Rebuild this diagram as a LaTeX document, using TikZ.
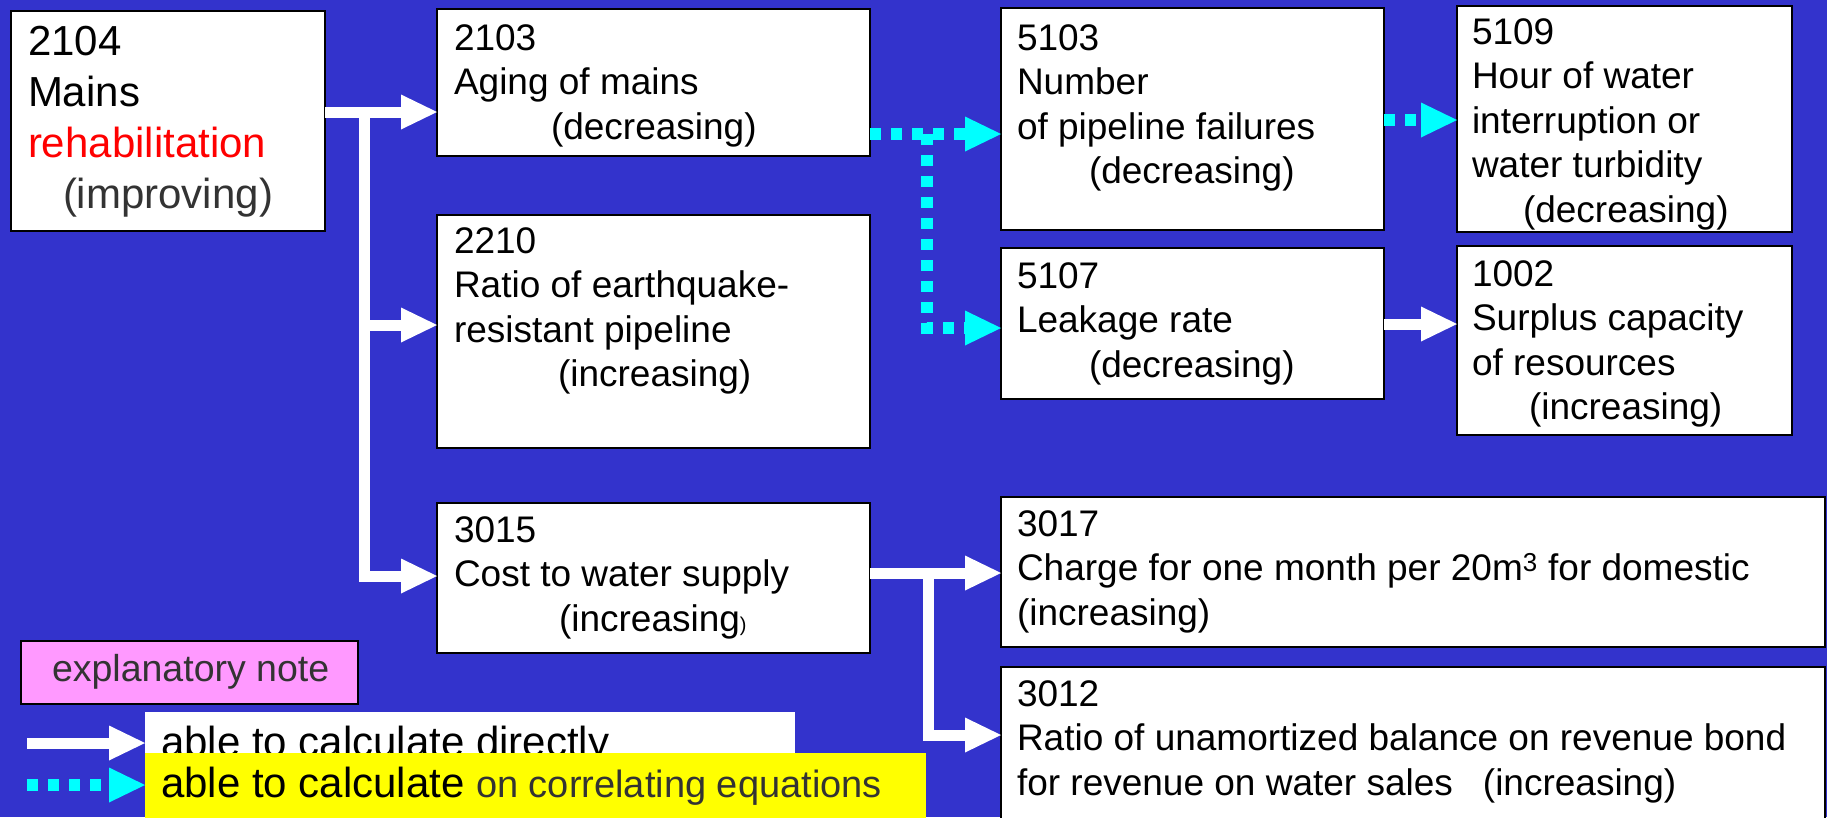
\documentclass[tikz,border=0pt]{standalone}
\usepackage{fontspec}
\setmainfont{Liberation Sans}
\usetikzlibrary{arrows.meta}
\definecolor{bgblue}{RGB}{51,51,204}
\definecolor{tcyan}{RGB}{0,255,255}
\definecolor{notepink}{RGB}{255,153,255}
\definecolor{txtgray}{RGB}{51,51,51}
\definecolor{lgyellow}{RGB}{255,255,0}
\newcommand\fst{\rule{0pt}{36pt}}
\begin{document}
\begin{tikzpicture}[x=1pt,y=-1pt,
  box/.style={draw=black,line width=2pt,fill=white,inner sep=0pt,outer sep=0pt,anchor=north west},
  txt/.style={anchor=north west,inner sep=0pt,outer sep=0pt,align=left,yshift=36pt,font=\fontsize{37}{44.5}\selectfont},
  bigtxt/.style={txt,font=\fontsize{42}{51}\selectfont},
  warrow/.style={draw=white,line width=11pt,-{Triangle[length=36pt,width=35pt,line width=0pt]}},
  carrow/.style={draw=tcyan,line width=12pt,dash pattern=on 11pt off 10pt,-{Triangle[length=36pt,width=35pt,line width=0pt]}},
]
\useasboundingbox (0,0) rectangle (1827,817);
\fill[bgblue] (0,0) rectangle (1827,817);

% boxes
\node[box,minimum width=314pt,minimum height=220pt] (b2104) at (11,11) {};
\node[box,minimum width=433pt,minimum height=147pt] (b2103) at (437,9) {};
\node[box,minimum width=433pt,minimum height=233pt] (b2210) at (437,215) {};
\node[box,minimum width=433pt,minimum height=150pt] (b3015) at (437,503) {};
\node[box,minimum width=383pt,minimum height=222pt] (b5103) at (1001,8) {};
\node[box,minimum width=335pt,minimum height=226pt] (b5109) at (1457,6) {};
\node[box,minimum width=383pt,minimum height=151pt] (b5107) at (1001,248) {};
\node[box,minimum width=335pt,minimum height=189pt] (b1002) at (1457,246) {};
\node[box,minimum width=824pt,minimum height=150pt] (b3017) at (1001,497) {};
\node[box,minimum width=824pt,minimum height=170pt] (b3012) at (1001,667) {};

% texts
\node[bigtxt] (t2104) at (28,55) {\fst 2104\\Mains\\{\color{red}rehabilitation}\\\hspace*{35pt}{\color{txtgray}(improving)}};
\node[txt] (t2103) at (454,50) {\fst 2103\\Aging of mains\\\hspace*{97pt}(decreasing)};
\node[txt] (t2210) at (454,253) {\fst 2210\\Ratio of earthquake-\\resistant pipeline\\\hspace*{104pt}(increasing)};
\node[txt] (t3015) at (454,542) {\fst 3015\\Cost to water supply\\\hspace*{105pt}(increasing{\fontsize{20}{20}\selectfont )}};
\node[txt] (t5103) at (1017,50) {\fst 5103\\Number\\of pipeline failures\\\hspace*{72pt}(decreasing)};
\node[txt] (t5109) at (1472,44) {\fst 5109\\Hour of water\\interruption or\\water turbidity\\\hspace*{51pt}(decreasing)};
\node[txt] (t5107) at (1017,288) {\fst 5107\\Leakage rate\\\hspace*{72pt}(decreasing)};
\node[txt] (t1002) at (1472,286) {\fst 1002\\Surplus capacity\\of resources\\\hspace*{57pt}(increasing)};
\node[txt] (t3017) at (1017,536) {\fst 3017\\Charge for one month per 20m\textsuperscript{3} for domestic\\(increasing)};
\node[txt] (t3012) at (1017,706) {\fst 3012\\Ratio of unamortized balance on revenue bond\\for revenue on water sales\hspace*{30pt}(increasing)};

% junction coordinates
\coordinate (jA) at (364,112);
\coordinate (jB) at (364,325);
\coordinate (jC) at (364,576);
\coordinate (jD) at (928,573);
\coordinate (jE) at (928,735);
\coordinate (jF) at (927,134);
\coordinate (jG) at (927,328);
\coordinate (jH) at (0,120);
\coordinate (jI) at (0,324);

% white arrows
\draw[warrow] (b2104.east |- jA) -- (b2103.west |- jA);
\draw[warrow] (jA) -- (jC) -- (b3015.west |- jC);
\draw[warrow] (jB) -- (b2210.west |- jB);
\draw[warrow] (b3015.east |- jD) -- (b3017.west |- jD);
\draw[warrow] (jD) -- (jE) -- (b3012.west |- jE);
\draw[warrow] (b5107.east |- jI) -- (b1002.west |- jI);

% cyan dotted arrows
\draw[carrow] (b2103.east |- jF) -- (b5103.west |- jF);
\draw[carrow] (jF) -- (jG) -- (b5107.west |- jG);
\draw[carrow] (b5103.east |- jH) -- (b5109.west |- jH);

% legend
\node[box,fill=notepink,minimum width=337pt,minimum height=63pt] (note) at (21,641) {};
\node[txt,font=\fontsize{37.5}{44}\selectfont,text=txtgray] (tnote) at (52,681) {\fst explanatory note};
\node[box,draw=none,minimum width=650pt,minimum height=50pt] (lwbox) at (145,712) {};
\node[txt,font=\fontsize{42}{50}\selectfont] (tlw) at (161,756) {\fst able to calculate directly};
\node[box,draw=none,fill=lgyellow,minimum width=781pt,minimum height=70pt] (lybox) at (145,753) {};
\node[txt,font=\fontsize{42}{50}\selectfont] (tly) at (161,797) {\fst able to calculate {\color{txtgray}\fontsize{38}{44}\selectfont on correlating equations}};
\coordinate (lw1) at (27,743);
\coordinate (lc1) at (27,785);
\draw[warrow] (lw1) -- (lwbox.west |- lw1);
\draw[carrow] (lc1) -- (lybox.west |- lc1);
\end{tikzpicture}
\end{document}
